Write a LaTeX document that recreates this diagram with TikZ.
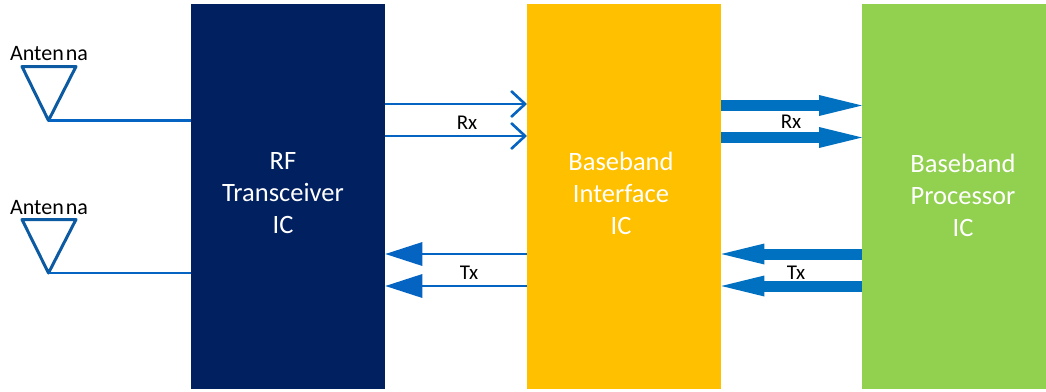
\documentclass[tikz,border=0pt]{standalone}
\usepackage{fontspec}
\setmainfont{Carlito}
\usetikzlibrary{arrows.meta,calc}
\definecolor{navy}{HTML}{002060}
\definecolor{amber}{HTML}{FFC000}
\definecolor{leaf}{HTML}{92D050}
\definecolor{linkblue}{HTML}{0563C1}
\definecolor{busblue}{HTML}{0070C0}
\definecolor{antblue}{HTML}{0B5AA2}
\tikzset{
  x=1pt,y=-1pt,
  icbox/.style={draw=none,minimum height=385pt,align=center,inner sep=0pt,font=\fontsize{26.5}{32}\selectfont},
  openlink/.style={draw=linkblue,line width=2.6pt,-{Straight Barb[length=14pt,width=26pt,line width=2.6pt]}},
  thinbus/.style={draw=linkblue,line width=2.6pt,-{Triangle[length=37pt,width=24pt,line width=0pt]}},
  thickbus/.style={draw=busblue,line width=11pt,-{Triangle[length=43pt,width=21pt,line width=0pt]}},
  feed/.style={draw=linkblue,line width=2.6pt},
  aerial/.style={draw=antblue,line width=3pt,line join=round},
  lbl/.style={inner sep=0pt,font=\fontsize{21}{22}\selectfont},
  antlbl/.style={inner sep=0pt,font=\fontsize{22}{22}\selectfont},
}
\begin{document}
\begin{tikzpicture}
\useasboundingbox (0,0) rectangle (1046,391);
\fill[white] (0,0) rectangle (1046,391);
\node[icbox,fill=navy,text=white,minimum width=194pt,anchor=north west] (rf) at (191,4) {};
\node[icbox,fill=amber,text=white,minimum width=194pt,anchor=north west] (bi) at (527,4) {};
\node[icbox,fill=leaf,text=white,minimum width=184pt,anchor=north west] (bp) at (862,4) {};
\node[icbox,minimum height=0pt,text=white] (rft) at (283,193) {RF\\Transceiver\\IC};
\node[icbox,minimum height=0pt,text=white] (bit) at (621,193) {Baseband\\Interface\\IC};
\node[icbox,minimum height=0pt,text=white] (bpt) at (963,195) {Baseband\\Processor\\IC};
% antennas
\coordinate (a1l) at (22,66.5); \coordinate (a1r) at (76,66.5); \coordinate (a1t) at (48.5,120.5);
\coordinate (a2l) at (22,219.5); \coordinate (a2r) at (76,219.5); \coordinate (a2t) at (48.5,273);
\draw[aerial] (a1l) -- (a1r) -- (a1t) -- cycle;
\draw[aerial] (a2l) -- (a2r) -- (a2t) -- cycle;
\draw[feed] (a1t) -- (rf.west |- a1t);
\draw[feed] (a2t) -- (rf.west |- a2t);
\node[antlbl] (al1) at (49,54) {Anten\kern2pt na};
\node[antlbl] (al2) at (49,207.5) {Anten\kern2pt na};
% rows
\coordinate (r1) at (0,104); \coordinate (r2) at (0,136);
\coordinate (t1) at (0,254); \coordinate (t2) at (0,286);
\coordinate (R1) at (0,105.5); \coordinate (R2) at (0,137.5);
\draw[openlink] (rf.east |- r1) -- (bi.west |- r1);
\draw[openlink] (rf.east |- r2) -- (bi.west |- r2);
\draw[thinbus] (bi.west |- t1) -- (rf.east |- t1);
\draw[thinbus] (bi.west |- t2) -- (rf.east |- t2);
\draw[thickbus] (bi.east |- R1) -- (bp.west |- R1);
\draw[thickbus] (bi.east |- R2) -- (bp.west |- R2);
\draw[thickbus] (bp.west |- t1) -- (bi.east |- t1);
\draw[thickbus] (bp.west |- t2) -- (bi.east |- t2);
\node[lbl] (rx1) at (467,123) {Rx};
\node[lbl] (tx1) at (469,273) {Tx};
\node[lbl] (rx2) at (791,122) {Rx};
\node[lbl] (tx2) at (796,273) {Tx};
\end{tikzpicture}
\end{document}
